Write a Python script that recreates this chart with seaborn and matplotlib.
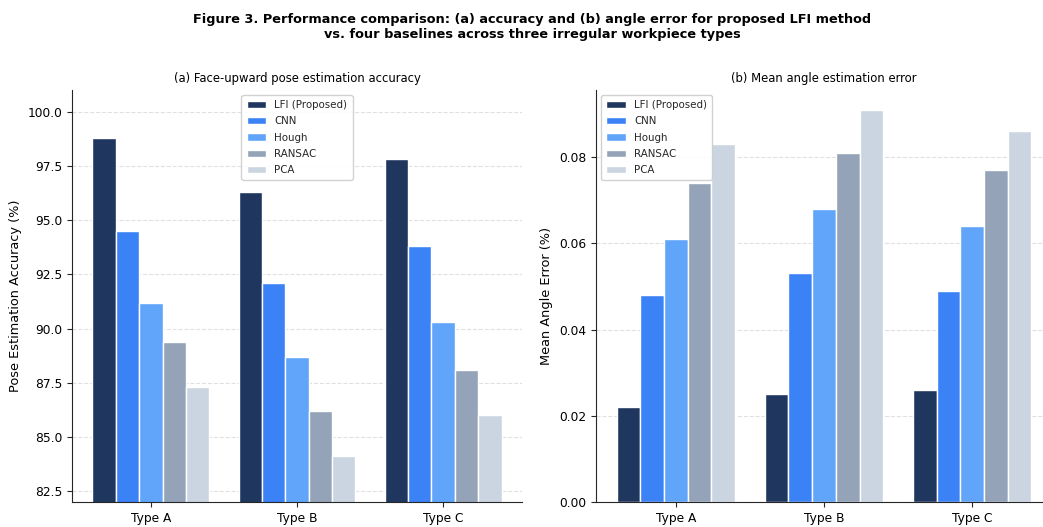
import pandas as pd
import matplotlib
matplotlib.use("Agg")
import matplotlib.pyplot as plt
import seaborn as sns

# Data
workpiece_types = ["Type A", "Type B", "Type C"]
methods = ["LFI (Proposed)", "CNN", "Hough", "RANSAC", "PCA"]

accuracy = {
    "LFI (Proposed)": [98.8, 96.3, 97.8],
    "CNN": [94.5, 92.1, 93.8],
    "Hough": [91.2, 88.7, 90.3],
    "RANSAC": [89.4, 86.2, 88.1],
    "PCA": [87.3, 84.1, 86.0],
}
angle_error = {
    "LFI (Proposed)": [0.022, 0.025, 0.026],
    "CNN": [0.048, 0.053, 0.049],
    "Hough": [0.061, 0.068, 0.064],
    "RANSAC": [0.074, 0.081, 0.077],
    "PCA": [0.083, 0.091, 0.086],
}

colors = ["#1f365f", "#3b82f6", "#60a5fa", "#94a3b8", "#cbd5e1"]


def to_long(values: dict) -> pd.DataFrame:
    rows = []
    for m in methods:
        for t, v in zip(workpiece_types, values[m]):
            rows.append({"type": t, "method": m, "value": v})
    return pd.DataFrame(rows)


def draw_panel(ax, df, title, ylabel, legend_loc):
    sns.barplot(
        data=df, x="type", y="value", hue="method", hue_order=methods,
        palette=colors, width=0.8, edgecolor="white", linewidth=1.0,
        saturation=1, ax=ax,
    )
    ax.set_title(title, fontsize=8.4, color="black")
    ax.set_xlabel("")
    ax.set_ylabel(ylabel, fontsize=9.3, color="black")
    ax.tick_params(axis="both", labelsize=8.8, labelcolor="black")
    ax.grid(axis="y", linestyle="--", color="#cccccc", alpha=0.6, linewidth=0.8)
    ax.set_axisbelow(True)
    ax.set_xlim(-0.54, 2.54)
    ax.legend(loc=legend_loc, fontsize=7.4, frameon=True, framealpha=0.9,
              handlelength=1.9, borderpad=0.5, labelspacing=0.6)
    sns.despine(ax=ax)


sns.set_style("ticks")
plt.rcParams["font.family"] = ["DejaVu Sans"]

fig = plt.figure(figsize=(10.43, 5.27), dpi=100)
W, H = 1043.0, 527.0
ax1 = fig.add_axes([72 / W, 25 / H, 450 / W, 412 / H])
ax2 = fig.add_axes([596 / W, 25 / H, 456 / W, 412 / H])

draw_panel(ax1, to_long(accuracy), "(a) Face-upward pose estimation accuracy",
           "Pose Estimation Accuracy (%)", "upper center")
ax1.set_ylim(82, 101)

draw_panel(ax2, to_long(angle_error), "(b) Mean angle estimation error",
           "Mean Angle Error (%)", "upper left")

fig.suptitle(
    "Figure 3. Performance comparison: (a) accuracy and (b) angle error for proposed LFI method\n"
    "vs. four baselines across three irregular workpiece types",
    fontsize=9.3, fontweight="bold", color="black", x=0.51, y=0.975,
)

fig.savefig("out.png", dpi=100)
